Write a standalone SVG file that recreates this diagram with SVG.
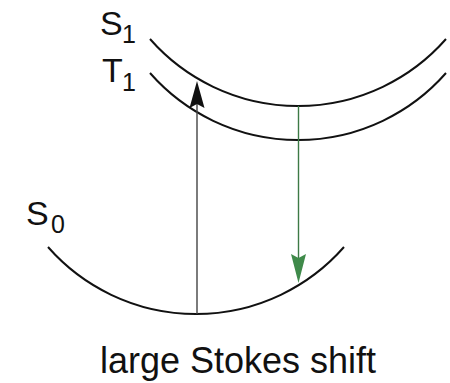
<svg xmlns="http://www.w3.org/2000/svg" width="450" height="383" viewBox="0 0 450 383">
<style>
.curve{fill:none;stroke:#111;stroke-width:2}
.lbl{font-family:"Liberation Sans",Arial,Helvetica,sans-serif;fill:#111}
.big{font-size:34px}
.sub{font-size:25px}
.absorb{stroke:#444;stroke-width:1.4}
.emit{stroke:#3c7a45;stroke-width:1.4}
</style>
<rect width="450" height="383" fill="#fff"/>
<g id="S1">
<path class="curve" d="M150,39 A197,197 0 0 0 446,39"/>
<text class="lbl big" x="100" y="35">S</text>
<text class="lbl sub" x="122" y="43">1</text>
</g>
<g id="T1">
<path class="curve" d="M150,73 A197,197 0 0 0 446,73"/>
<text class="lbl big" x="102" y="82">T</text>
<text class="lbl sub" x="122" y="91">1</text>
</g>
<g id="S0">
<path class="curve" d="M48,247 A197,197 0 0 0 344,247"/>
<text class="lbl big" x="26" y="225">S</text>
<text class="lbl sub" x="51" y="233">0</text>
</g>
<g id="connectors">
<line class="absorb" x1="197" y1="314" x2="197" y2="100"/>
<path d="M197,81 L204.5,108 L197,104 L189.5,108 Z" fill="#111"/>
<line class="emit" x1="298.5" y1="106" x2="298.5" y2="262"/>
<path d="M298.5,283 L291,254 L298.5,258 L306,254 Z" fill="#3f8a4a"/>
</g>
<text class="lbl" x="238" y="373" font-size="36" text-anchor="middle">large Stokes shift</text>
</svg>
